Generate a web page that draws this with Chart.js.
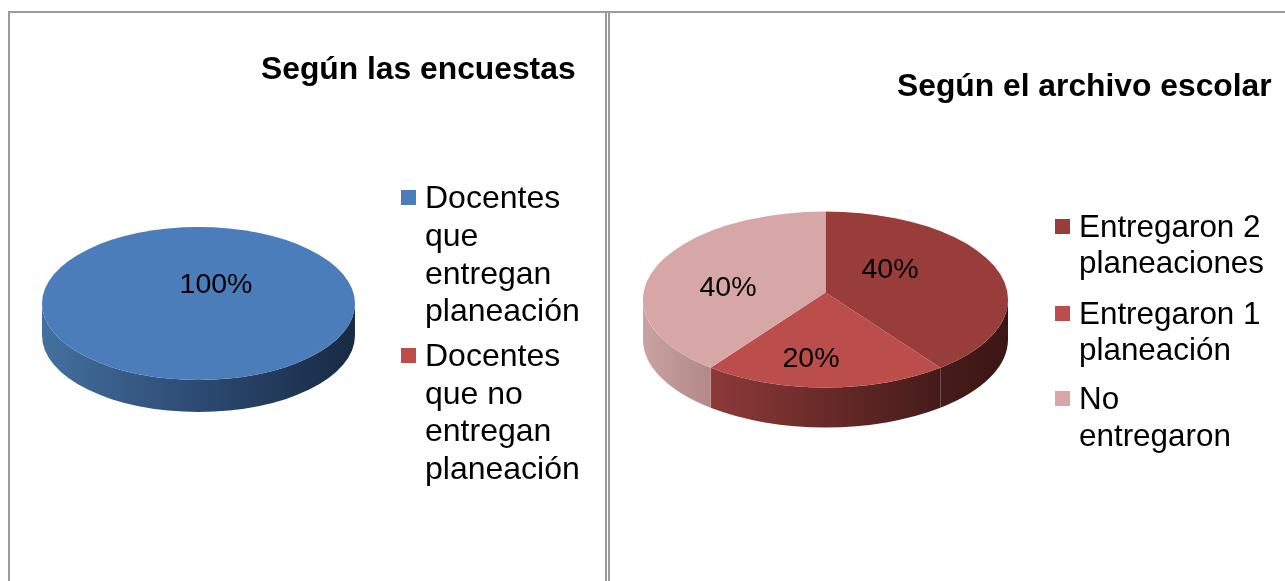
<!DOCTYPE html>
<html lang="es">
<head>
<meta charset="utf-8">
<title>Planeaciones</title>
<script src="https://cdn.jsdelivr.net/npm/chart.js@4"></script>
<style>
html,body{margin:0;padding:0;background:#fff;width:1285px;height:581px;overflow:hidden}
#stage{position:relative;width:1285px;height:581px;filter:blur(0.7px)}
canvas{position:absolute;top:0}
.rule{position:absolute;background:#9a9a9a}
</style>
</head>
<body>
<div id="stage">
  <div class="rule" style="left:8px;top:11px;width:1277px;height:2px"></div>
  <div class="rule" style="left:8px;top:11px;width:2px;height:570px"></div>
  <div class="rule" style="left:605px;top:11px;width:2px;height:570px"></div>
  <div class="rule" style="left:608px;top:11px;width:2px;height:570px"></div>
  <canvas id="left" width="606" height="581" style="left:0"></canvas>
  <canvas id="right" width="675" height="581" style="left:610px"></canvas>
</div>
<script>
const leftTitle = 'Según las encuestas';
const leftCategories = [['Docentes', 'que', 'entregan', 'planeación'], ['Docentes', 'que no', 'entregan', 'planeación']];
const leftValues = [100, 0];
const leftColors = ['#4c7dbb', '#bd4d4a'];
const leftSides = [['#44709f', '#2c4a72', '#182a44'], ['#8b3836', '#471c1b']];

const rightTitle = 'Según el archivo escolar';
const rightCategories = [['Entregaron 2', 'planeaciones'], ['Entregaron 1', 'planeación'], ['No', 'entregaron']];
const rightValues = [40, 20, 40];
const rightColors = ['#993d3a', '#bb4d4b', '#d7a6a6'];
const rightSides = [['#451c1a', '#3c1614'], ['#8d3a38', '#441b1a'], ['#c9a2a2', '#b28888']];

const FONT = '"Liberation Sans", Arial, sans-serif';
const warp = t => t - 0.055 * Math.sin(2 * t);

const pie3d = {
  id: 'pie3d',
  beforeDatasetsDraw(chart, args, o) {
    const ctx = chart.ctx;
    const arcs = chart.getDatasetMeta(0).data;
    const sideColors = chart.data.datasets[0].sideColors;
    const colors = chart.data.datasets[0].backgroundColor;
    const drawn = arcs.map((a, i) => ({a, i})).filter(d => d.a.circumference > 0);
    drawn.forEach(({a, i}) => {
      const rx = a.outerRadius, ry = rx * o.flatten;
      const s = Math.max(warp(a.startAngle), 0), e = Math.min(warp(a.endAngle), Math.PI);
      if (e <= s) return;
      const x0 = a.x + rx * Math.cos(e), x1 = a.x + rx * Math.cos(s);
      const g = ctx.createLinearGradient(x0, 0, x1, 0);
      sideColors[i].forEach((c, k, l) => g.addColorStop(k / (l.length - 1), c));
      ctx.beginPath();
      ctx.ellipse(a.x, a.y, rx, ry, 0, s, e);
      ctx.ellipse(a.x, a.y + o.depth, rx, ry, 0, e, s, true);
      ctx.closePath();
      ctx.fillStyle = g;
      ctx.fill();
    });
    drawn.forEach(({a, i}) => {
      const rx = a.outerRadius, ry = rx * o.flatten;
      ctx.beginPath();
      ctx.ellipse(a.x, a.y, rx, ry, 0, warp(a.startAngle), warp(a.endAngle));
      if (a.circumference < Math.PI * 2 - 1e-6) ctx.lineTo(a.x, a.y - o.apexLift);
      ctx.closePath();
      ctx.fillStyle = colors[i];
      ctx.fill();
    });
    return false;
  },
  afterDraw(chart, args, o) {
    const ctx = chart.ctx;
    const arcs = chart.getDatasetMeta(0).data;
    const values = chart.data.datasets[0].data;
    const total = values.reduce((p, v) => p + v, 0);
    const colors = chart.data.datasets[0].backgroundColor;
    ctx.save();
    ctx.fillStyle = '#000';
    ctx.textBaseline = 'middle';
    ctx.textAlign = 'left';
    ctx.font = 'bold ' + o.titleSize + 'px ' + FONT;
    ctx.fillText(o.title, o.titleX, o.titleY);
    ctx.font = o.legendSize + 'px ' + FONT;
    chart.data.labels.forEach((lines, i) => {
      ctx.fillStyle = colors[i];
      ctx.fillRect(o.swatchX, o.legendY[i][0] - 9, 15, 15);
      ctx.fillStyle = '#000';
      lines.forEach((line, k) => ctx.fillText(line, o.legendX, o.legendY[i][k]));
    });
    ctx.font = '28.5px ' + FONT;
    ctx.textAlign = 'center';
    arcs.forEach((a, i) => {
      if (!values[i]) return;
      ctx.fillText(Math.round(values[i] / total * 100) + '%', o.labelAt[i][0], o.labelAt[i][1]);
    });
    ctx.restore();
  }
};

function makePie(id, labels, values, colors, sides, padding, opts) {
  return new Chart(document.getElementById(id), {
    type: 'pie',
    plugins: [pie3d],
    data: { labels, datasets: [{ data: values, backgroundColor: colors, sideColors: sides, borderWidth: 0 }] },
    options: {
      responsive: false,
      animation: false,
      layout: { padding },
      plugins: { legend: { display: false }, title: { display: false }, tooltip: { enabled: false }, pie3d: opts }
    }
  });
}

makePie('left', leftCategories, leftValues, leftColors, leftSides,
  { left: 42, right: 251, top: 147, bottom: 121 },
  { flatten: 0.489, depth: 32, apexLift: 6, title: leftTitle, titleSize: 31.8, titleX: 261, titleY: 70,
    legendSize: 32, legendX: 425, swatchX: 401,
    legendY: [[199, 237, 275, 312], [357, 395, 432, 470]],
    labelAt: [[216, 285]] });

makePie('right', rightCategories, rightValues, rightColors, rightSides,
  { left: 33, right: 277, top: 117, bottom: 99 },
  { flatten: 0.482, depth: 40, apexLift: 7, title: rightTitle, titleSize: 31.8, titleX: 287, titleY: 87,
    legendSize: 31.4, legendX: 469, swatchX: 445,
    legendY: [[228, 264], [315, 351], [400, 437]],
    labelAt: [[280, 270], [201, 359], [118, 288]] });
</script>
</body>
</html>
